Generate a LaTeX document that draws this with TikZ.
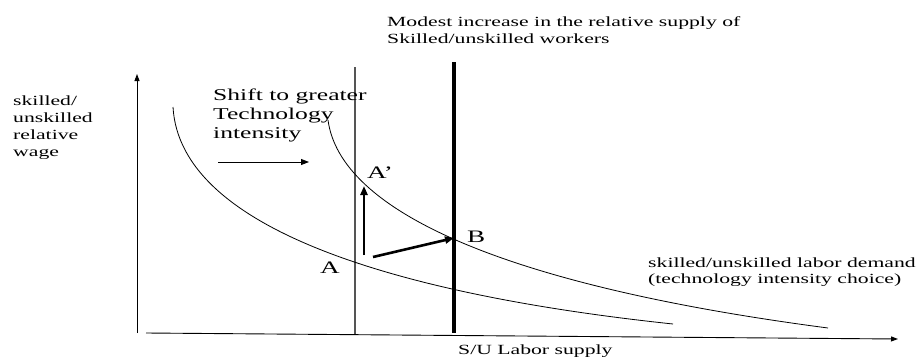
\documentclass[tikz,border=0pt]{standalone}
\usepackage{fontspec}
\setmainfont{Liberation Serif}[FakeStretch=1.55]
\usepackage{tikz}
\usetikzlibrary{arrows.meta}
\definecolor{oldgray}{HTML}{555555}

\begin{document}
\begin{tikzpicture}[x=1pt, y=-1pt,
  every node/.style={inner sep=0pt, font=\fontsize{14}{17}\selectfont},
  lbl/.style={anchor=base west, align=left},
  big/.style={font=\fontsize{16.5}{19}\selectfont},
  pt/.style={font=\fontsize{17.5}{20}\selectfont},
  axis/.style={line width=0.9pt, -{Triangle[length=7pt, width=5pt]}},
  curve/.style={line width=0.8pt},
  move/.style={line width=2.6pt, -{Triangle[length=9pt, width=7pt]}},
]
\useasboundingbox (0,0) rectangle (923,359);

% axes
\coordinate (origin) at (137,333);
\coordinate (ytop) at (137,74);
\coordinate (xstart) at (146,333);
\coordinate (xend) at (898,339);
\draw[axis] (origin) -- (ytop);
\draw[axis] (xstart) -- (xend);

% supply lines
\coordinate (oldtop) at (355,67);
\coordinate (oldbot) at (355,334);
\coordinate (newtop) at (454,62);
\coordinate (newbot) at (454,333);
\draw[oldgray, line width=1.3pt] (oldtop) -- (oldbot);
\draw[line width=3.2pt] (newtop) -- (newbot);

% demand curves
\coordinate (lowS) at (173,107);
\coordinate (lowE) at (673,324);
\coordinate (highS) at (328,120);
\coordinate (highE) at (828,328);
\draw[curve] (lowS) .. controls (180,230) and (400,295) .. (lowE);
\draw[curve] (highS) .. controls (340,210) and (500,285) .. (highE);

% moves
\coordinate (shiftS) at (218,162);
\coordinate (shiftE) at (309,162);
\coordinate (upS) at (364,255);
\coordinate (upE) at (364,186);
\coordinate (toBS) at (373,257);
\coordinate (toBE) at (454,238);
\draw[line width=0.9pt, -{Triangle[length=8pt, width=6pt]}] (shiftS) -- (shiftE);
\draw[move] (upS) -- (upE);
\draw[move] (toBS) -- (toBE);

% labels (base = last line)
\node[lbl] (ylab) at (13,156) {skilled/\\unskilled\\relative\\wage};
\node[lbl, big] (shift) at (213,138) {Shift to greater\\Technology\\intensity};
\node[lbl] (supply) at (387,43) {Modest increase in the relative supply of\\Skilled/unskilled workers};
\node[lbl, font=\fontsize{14}{15.5}\selectfont] (demand) at (648,283) {skilled/unskilled labor demand\\(technology intensity choice)};
\node[lbl] (xlab) at (458,354) {S/U Labor supply};
\node[pt, anchor=base] (labA) at (330,273) {A};
\node[pt, lbl] (labAp) at (367,178) {A’};
\node[pt, lbl] (labB) at (467,242) {B};

\end{tikzpicture}
\end{document}
